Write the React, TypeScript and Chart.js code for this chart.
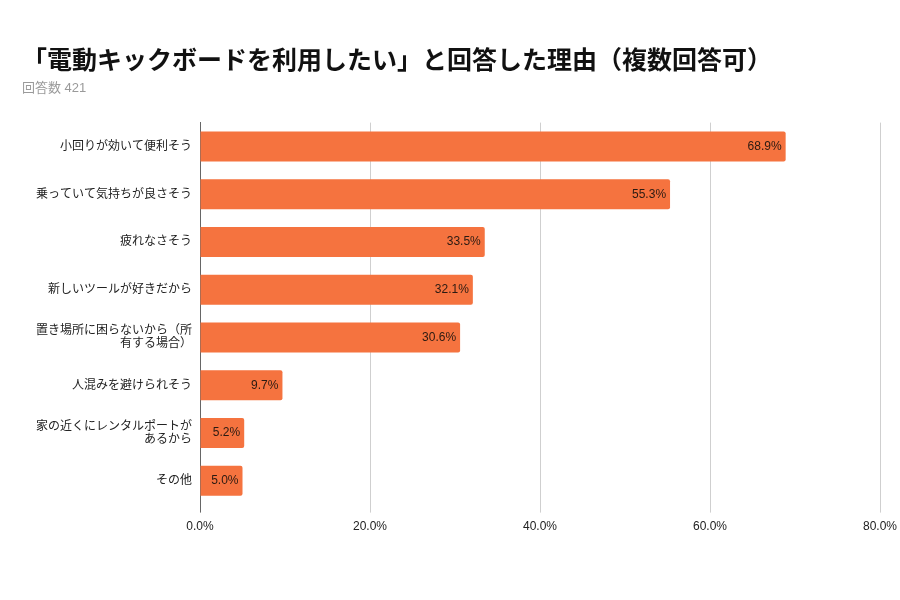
import React, { useEffect, useRef } from "react";
import { Chart, registerables } from "chart.js";

Chart.register(...registerables);

const TITLE = "「電動キックボードを利用したい」と回答した理由（複数回答可）";
const SUBTITLE = "回答数 421";
const categories: (string | string[])[] = [
  "小回りが効いて便利そう",
  "乗っていて気持ちが良さそう",
  "疲れなさそう",
  "新しいツールが好きだから",
  ["置き場所に困らないから（所", "有する場合）"],
  "人混みを避けられそう",
  ["家の近くにレンタルポートが", "あるから"],
  "その他",
];
const values = [68.9, 55.3, 33.5, 32.1, 30.6, 9.7, 5.2, 5.0];
const xTicks = [0, 20, 40, 60, 80];

const FONT = "'Liberation Sans', Arial, 'Noto Sans CJK JP', sans-serif";
const BAR_COLOR = "#F5733F";

const valueLabels = {
  id: "valueLabels",
  afterDatasetsDraw(chart: any) {
    const ctx = chart.ctx;
    const meta = chart.getDatasetMeta(0);
    ctx.save();
    ctx.font = `12px ${FONT}`;
    ctx.fillStyle = "#2a1a12";
    ctx.textAlign = "right";
    ctx.textBaseline = "middle";
    meta.data.forEach((el: any, i: number) => {
      ctx.fillText(values[i].toFixed(1) + "%", el.x - 4, el.y);
    });
    ctx.restore();
  },
};

export default function App() {
  const ref = useRef<HTMLCanvasElement | null>(null);
  useEffect(() => {
    if (!ref.current) return;
    const chart = new Chart(ref.current, {
      type: "bar",
      data: {
        labels: categories,
        datasets: [
          {
            data: values,
            backgroundColor: BAR_COLOR,
            borderRadius: 2,
            borderSkipped: "start",
            barPercentage: 0.63,
            categoryPercentage: 1,
          },
        ],
      },
      options: {
        indexAxis: "y",
        animation: false,
        responsive: false,
        layout: { padding: { left: 22, right: 20, top: 0, bottom: 59 } },
        plugins: {
          legend: { display: false },
          tooltip: { enabled: false },
          title: {
            display: true,
            text: TITLE,
            align: "start",
            color: "#111",
            font: { family: FONT, size: 25, weight: "bold", lineHeight: 1.2 },
            padding: { top: 47, bottom: 4 },
          },
          subtitle: {
            display: true,
            text: SUBTITLE,
            align: "start",
            color: "#9a9a9a",
            font: { family: FONT, size: 13, lineHeight: 1.2 },
            padding: { top: 0, bottom: 26 },
          },
        },
        scales: {
          x: {
            min: 0,
            max: 80,
            afterBuildTicks: (axis: any) => {
              axis.ticks = xTicks.map((v) => ({ value: v }));
            },
            afterFit: (axis: any) => {
              axis.paddingRight = 0;
              axis.paddingLeft = 0;
            },
            ticks: {
              color: "#222",
              font: { family: FONT, size: 12 },
              padding: 7,
              maxRotation: 0,
              callback: (v: any) => Number(v).toFixed(1) + "%",
            },
            grid: {
              color: (c: any) => (c.tick && c.tick.value === 0 ? "#666" : "#cfcfcf"),
              lineWidth: 1,
              drawTicks: true,
              tickLength: 8,
            },
            border: { display: false },
          },
          y: {
            afterFit: (axis: any) => {
              axis.width = 178;
            },
            ticks: {
              color: "#222",
              font: { family: FONT, size: 12, lineHeight: 1.05 },
              padding: 8,
            },
            grid: { display: false, drawTicks: false },
            border: { display: true, color: "#666", width: 1 },
          },
        },
      },
      plugins: [valueLabels],
    });
    return () => chart.destroy();
  }, []);
  return (
    <div style={{ position: "fixed", left: 0, top: 0, width: 900, height: 600, background: "#fff" }}>
      <canvas ref={ref} width={900} height={600} style={{ width: 900, height: 600 }} />
    </div>
  );
}
